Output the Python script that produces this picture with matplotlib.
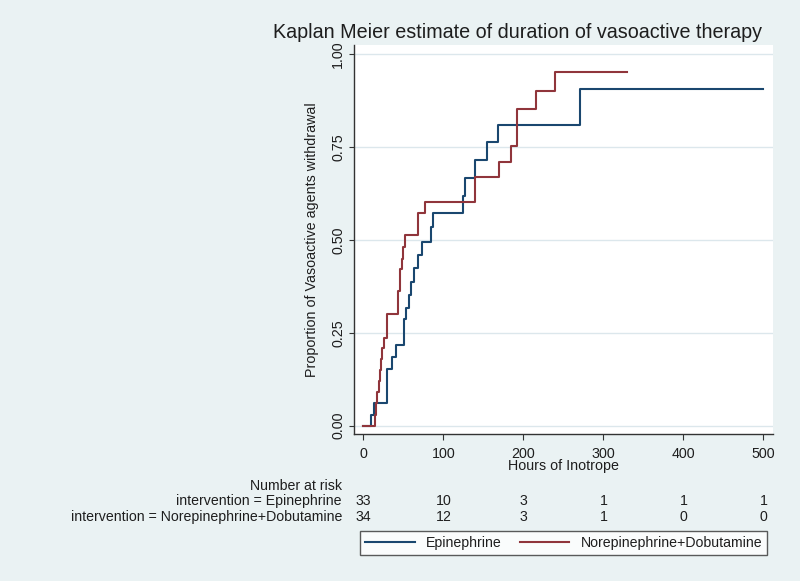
import matplotlib
matplotlib.use("Agg")
import matplotlib.pyplot as plt
import matplotlib.transforms as mtransforms

# data
epi_t = [0, 10, 13, 29, 30, 36, 41, 50.4, 53.8, 56.6, 59.6, 62.9, 68.4, 73.4, 84.6, 86.6,
         124.6, 127.2, 139.6, 154.2, 168.3, 271, 500]
epi_s = [0, 0.030, 0.060, 0.091, 0.152, 0.185, 0.218, 0.287, 0.316, 0.352, 0.388, 0.424,
         0.460, 0.495, 0.536, 0.572, 0.618, 0.666, 0.715, 0.762, 0.809, 0.905, 0.905]

nor_t = [0, 14, 15.5, 17, 19, 20.5, 22, 23.5, 26, 29.5, 30, 43, 46, 48, 50, 52, 68.5, 76.5,
         140, 170, 185, 191.5, 216, 240, 330]
nor_s = [0, 0.030, 0.060, 0.090, 0.120, 0.150, 0.180, 0.210, 0.235, 0.270, 0.300, 0.363,
         0.421, 0.448, 0.482, 0.513, 0.573, 0.603, 0.670, 0.710, 0.753, 0.851, 0.900,
         0.951, 0.951]

risk_times = [0, 100, 200, 300, 400, 500]
risk_epi = [33, 10, 3, 1, 1, 1]
risk_nor = [34, 12, 3, 1, 0, 0]
row_labels = ["intervention = Epinephrine", "intervention = Norepinephrine+Dobutamine"]

navy = "#1A476F"
maroon = "#90353B"
bg = "#EAF2F3"
txt = "#1E1E1E"

plt.rcParams['font.family'] = ['Liberation Sans', 'DejaVu Sans']

fig = plt.figure(figsize=(8, 5.81), dpi=100, facecolor=bg)
ax = fig.add_axes([0.4429, 0.2525, 0.5234, 0.670])
ax.set_facecolor("white")

ax.step(epi_t, epi_s, where='post', color=navy, lw=1.5, label="Epinephrine")
ax.step(nor_t, nor_s, where='post', color=maroon, lw=1.5, label="Norepinephrine+Dobutamine")

ax.set_xlim(-11.25, 512)
ax.set_ylim(-0.023, 1.0242)
ax.set_xticks(risk_times)
ax.set_yticks([0, 0.25, 0.5, 0.75, 1.0])
ax.set_yticklabels(["0.00", "0.25", "0.50", "0.75", "1.00"])
ax.grid(axis='y', color="#DCE7EC", lw=1)
ax.set_axisbelow(True)

for s in ['top', 'right']:
    ax.spines[s].set_visible(False)
for s in ['left', 'bottom']:
    ax.spines[s].set_color("#333333")
    ax.spines[s].set_linewidth(1)

ax.tick_params(axis='x', length=4.3, pad=4.5, labelsize=10.3, colors="#333333", labelcolor=txt)
ax.tick_params(axis='y', length=3.6, pad=3, labelsize=10.3, colors="#333333", labelcolor=txt)
plt.setp(ax.get_yticklabels(), rotation=90, va='center')

ax.set_xlabel("Hours of Inotrope", fontsize=10.3, color=txt, va='center')
ax.xaxis.set_label_coords(0.5, -0.0814)
ax.set_ylabel("Proportion of Vasoactive agents withdrawal", fontsize=10.3, color=txt, va='center')
ax.yaxis.set_label_coords(-0.101, 0.5)

fig.text(762 / 800, 1 - 33 / 581, "Kaplan Meier estimate of duration of vasoactive therapy",
         ha='right', va='center', fontsize=14.2, color=txt)

# number at risk table
tr = mtransforms.blended_transform_factory(ax.transData, fig.transFigure)
fig.text(342 / 800, 1 - 485.7 / 581, "Number at risk", ha='right', va='center', fontsize=10.2, color=txt)
for lab, counts, ypix in zip(row_labels, [risk_epi, risk_nor], [500.7, 516.7]):
    fig.text(342 / 800, 1 - ypix / 581, lab, ha='right', va='center', fontsize=10.2, color=txt)
    for t, n in zip(risk_times, counts):
        ax.text(t, 1 - ypix / 581, str(n), transform=tr, ha='center', va='center',
                fontsize=10.2, color=txt, clip_on=False)

leg = fig.legend(loc='lower left', bbox_to_anchor=(360 / 800, 1 - 555 / 581, 407 / 800, 26 / 581),
                 mode='expand', ncol=2, fancybox=False, frameon=True, fontsize=10.2,
                 handlelength=3.5, borderaxespad=0, borderpad=0.35, columnspacing=0.8)
leg.get_frame().set_edgecolor("#333333")
leg.get_frame().set_linewidth(1)
for t in leg.get_texts():
    t.set_color(txt)

fig.savefig("out.png", dpi=100, facecolor=bg)
